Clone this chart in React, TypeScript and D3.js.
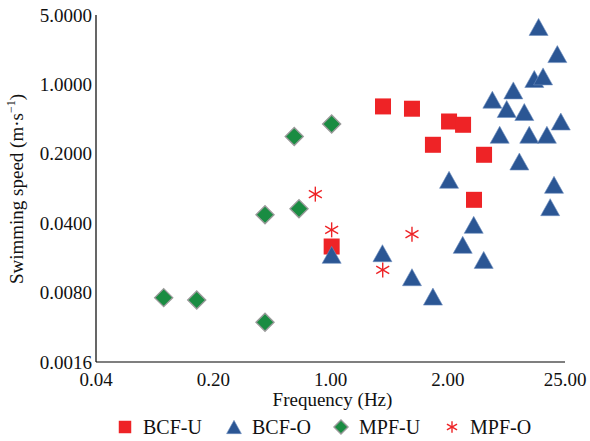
import React from 'react'
import * as d3 from 'd3'

// values (Hz, m/s)
const bcfU = [
  [1.016, 0.0233], [2.056, 0.600], [3.06, 0.569], [5.09, 0.423],
  [6.17, 0.392], [4.08, 0.2465], [8.23, 0.1955], [7.17, 0.0688],
]
const bcfO = [
  [17.4, 3.79], [22.5, 2.02], [16.4, 1.133], [18.5, 1.204], [12.3, 0.870],
  [9.22, 0.701], [11.23, 0.565], [14.3, 0.527], [23.6, 0.423], [10.2, 0.311],
  [15.3, 0.311], [19.5, 0.311], [13.36, 0.1673], [21.5, 0.0974], [20.4, 0.058],
  [5.09, 0.1094], [7.14, 0.0385], [6.14, 0.0242], [8.19, 0.01708],
  [2.04, 0.01995], [3.06, 0.01143], [4.08, 0.00729], [1.016, 0.0192],
]
const mpfU = [
  [0.1013, 0.00712], [0.1594, 0.00675], [0.407, 0.0486], [0.649, 0.0558],
  [0.608, 0.299], [1.016, 0.399], [0.407, 0.00402],
]
const mpfO = [
  [0.812, 0.0785], [1.016, 0.0343], [2.048, 0.01354], [3.06, 0.031],
]

const xTicks = [0.04, 0.2, 1, 5, 25]
const xTickLabels = ['0.04', '0.20', '1.00', '2.00', '25.00']
const yTicks = [0.0016, 0.008, 0.04, 0.2, 1, 5]
const yTickLabels = ['0.0016', '0.0080', '0.0400', '0.2000', '1.0000', '5.0000']

const legendItems = [
  { name: 'BCF-U', kind: 'square' },
  { name: 'BCF-O', kind: 'triangle' },
  { name: 'MPF-U', kind: 'diamond' },
  { name: 'MPF-O', kind: 'star' },
]

const RED = '#ee2326'
const BLUE = '#2b5694'
const GREEN = '#1a8c42'
const FONT = "'Liberation Serif', 'DejaVu Serif', serif"

function Marker({ kind, x, y, s = 1 }: { kind: string; x: number; y: number; s?: number }) {
  if (kind === 'square') {
    const h = 8 * s
    return <rect x={x - h} y={y - h} width={2 * h} height={2 * h} fill={RED} />
  }
  if (kind === 'triangle') {
    const w = 9.5 * s, h = 8.5 * s
    return <path d={`M${x},${y - h}L${x + w},${y + h}L${x - w},${y + h}Z`} fill={BLUE} stroke="#6f8fbf" strokeWidth={0.6} />
  }
  if (kind === 'diamond') {
    const r = 9 * s
    return <path d={`M${x},${y - r}L${x + r},${y}L${x},${y + r}L${x - r},${y}Z`} fill={GREEN} stroke="#9a9a9a" strokeWidth={1.4} />
  }
  const r = 7.5 * s
  const dx = r * Math.cos(Math.PI / 6), dy = r * Math.sin(Math.PI / 6)
  return (
    <g stroke={RED} strokeWidth={1.4}>
      <line x1={x} y1={y - r} x2={x} y2={y + r} />
      <line x1={x - dx} y1={y - dy} x2={x + dx} y2={y + dy} />
      <line x1={x - dx} y1={y + dy} x2={x + dx} y2={y - dy} />
    </g>
  )
}

export default function App() {
  const W = 590, H = 441
  const left = 96, right = 565, top = 15, bottom = 362

  const x = d3.scaleLog().domain([0.04, 25]).range([left, right])
  const y = d3.scaleLog().domain([0.0016, 5]).range([bottom, top])

  const series = [
    { kind: 'diamond', data: mpfU },
    { kind: 'square', data: bcfU },
    { kind: 'triangle', data: bcfO },
    { kind: 'star', data: mpfO },
  ]

  const legendX = [125, 234, 341, 452]
  const txt = { fontFamily: FONT, fill: '#111' }

  return (
    <svg width={W} height={H} style={{ position: 'absolute', left: 0, top: 0, background: '#fff', fontFamily: FONT }}>
      {/* axes */}
      <line x1={left} y1={top} x2={left} y2={bottom} stroke="#000" strokeWidth={1.2} />
      <line x1={left} y1={bottom} x2={right} y2={bottom} stroke="#000" strokeWidth={1.2} />

      {yTicks.map((t, i) => (
        <text key={`y${i}`} x={92} y={y(t)} dy="0.35em" textAnchor="end" fontSize={19} style={txt}>
          {yTickLabels[i]}
        </text>
      ))}
      {xTicks.map((t, i) => (
        <text key={`x${i}`} x={x(t)} y={386} textAnchor="middle" fontSize={19} style={txt}>
          {xTickLabels[i]}
        </text>
      ))}

      <text x={(left + right) / 2 + 2} y={406} textAnchor="middle" fontSize={19} style={txt}>Frequency (Hz)</text>
      <text transform={`translate(23,189) rotate(-90)`} textAnchor="middle" fontSize={19} style={txt}>
        Swimming speed (m·s<tspan fontSize={12} dy={-8}>−1</tspan><tspan dy={8}>)</tspan>
      </text>

      {series.map(sr => sr.data.map((d, i) => (
        <Marker key={`${sr.kind}${i}`} kind={sr.kind} x={x(d[0])} y={y(d[1])} />
      )))}

      {legendItems.map((it, i) => (
        <g key={it.name}>
          <Marker kind={it.kind} x={legendX[i]} y={427} s={0.78} />
          <text x={legendX[i] + 18} y={434} fontSize={20} style={txt}>{it.name}</text>
        </g>
      ))}
    </svg>
  )
}
